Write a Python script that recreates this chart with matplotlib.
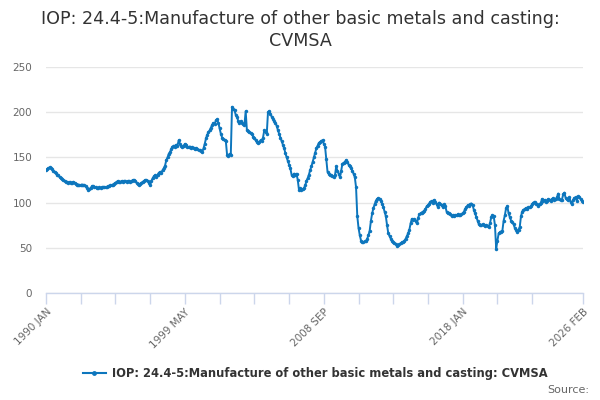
import matplotlib
matplotlib.use("Agg")
import matplotlib.pyplot as plt
from matplotlib.lines import Line2D
import numpy as np

title = "IOP: 24.4-5:Manufacture of other basic metals and casting:\nCVMSA"
series_name = "IOP: 24.4-5:Manufacture of other basic metals and casting: CVMSA"

start_year = 1990
months = ["JAN", "FEB", "MAR", "APR", "MAY", "JUN", "JUL", "AUG", "SEP", "OCT", "NOV", "DEC"]

values = [
    # 1990
    136, 137, 138, 139, 138, 137, 135, 134, 133, 131, 130, 128,
    # 1991
    127, 126, 125, 124, 123, 123, 122, 123, 122, 122, 123, 122,
    # 1992
    121, 120, 120, 119, 119, 120, 119, 119, 118, 116, 114, 115,
    # 1993
    116, 118, 118, 117, 117, 116, 116, 117, 116, 117, 117, 117,
    # 1994
    117, 117, 118, 118, 119, 119, 120, 121, 122, 123, 124, 123,
    # 1995
    123, 124, 123, 124, 124, 123, 124, 124, 123, 124, 125, 125,
    # 1996
    124, 122, 121, 120, 121, 122, 123, 124, 125, 125, 124, 122,
    # 1997
    120, 124, 127, 129, 130, 128, 131, 133, 134, 133, 136, 138,
    # 1998
    141, 147, 150, 154, 156, 159, 162, 163, 162, 164, 163, 169,
    # 1999
    165, 163, 161, 163, 165, 164, 162, 161, 162, 160, 161, 160,
    # 2000
    159, 160, 159, 158, 158, 157, 156, 160, 165, 171, 175, 178,
    # 2001
    180, 183, 186, 188, 187, 191, 192, 188, 182, 176, 172, 170,
    # 2002
    169, 168, 153, 152, 154, 153, 206, 203, 202, 197, 195, 190,
    # 2003
    188, 190, 188, 187, 186, 201, 180, 179, 178, 177, 176, 173,
    # 2004
    171, 169, 167, 166, 167, 169, 168, 172, 180, 178, 176, 200,
    # 2005
    201, 198, 195, 193, 190, 188, 185, 180, 176, 172, 168, 164,
    # 2006
    160, 155, 150, 146, 142, 138, 131, 129, 132, 130, 132, 125,
    # 2007
    114, 116, 114, 115, 116, 119, 124, 127, 131, 136, 140, 145,
    # 2008
    150, 155, 160, 163, 166, 167, 168, 169, 165, 162, 148, 134,
    # 2009
    132, 131, 130, 129, 128, 130, 140, 135, 132, 128, 135, 143,
    # 2010
    144, 145, 147, 145, 142, 140, 138, 135, 132, 128, 117, 85,
    # 2011
    72, 64, 58, 56, 56, 57, 57, 60, 64, 69, 80, 88,
    # 2012
    94, 98, 102, 104, 105, 104, 102, 99, 95, 90, 85, 75,
    # 2013
    66, 63, 60, 58, 56, 55, 54, 52, 53, 54, 55, 56,
    # 2014
    56, 58, 60, 63, 66, 70, 77, 82, 81, 82, 80, 77,
    # 2015
    83, 87, 88, 89, 90, 91, 93, 96, 97, 99, 101, 102,
    # 2016
    100, 103, 101, 98, 95, 100, 98, 97, 95, 98, 96, 90,
    # 2017
    89, 88, 87, 85, 86, 85, 86, 86, 87, 86, 86, 87,
    # 2018
    88, 90, 93, 95, 97, 96, 98, 99, 97, 92, 88, 84,
    # 2019
    80, 76, 75, 75, 76, 75, 74, 75, 74, 73, 77, 84,
    # 2020
    86, 85, 75, 49, 58, 66, 67, 68, 69, 80, 86, 94,
    # 2021
    96, 88, 84, 80, 78, 76, 72, 70, 68, 70, 73, 85,
    # 2022
    90, 92, 93, 94, 93, 95, 95, 96, 98, 100, 101, 99,
    # 2023
    98, 96, 98, 100, 104, 102, 103, 101, 102, 104, 103, 102,
    # 2024
    104, 105, 103, 104, 106, 110, 104, 103, 103, 109, 111, 105,
    # 2025
    104, 103, 106, 101, 98, 103, 105, 106, 102, 107, 106, 104,
    # 2026
    102, 101,
]

y_ticks = [0, 50, 100, 150, 200, 250]

n = len(values)
idx = np.arange(n)
labels = [f"{start_year + i // 12} {months[i % 12]}" for i in range(n)]

color = "#0d76bd"

fig = plt.figure(figsize=(6, 4), dpi=100)
ax = fig.add_axes([46/600, 1 - 293/400, (583 - 46)/600, (293 - 67)/400])

ax.plot(idx, values, color=color, linewidth=1.4, marker="o", markersize=2.5,
        markeredgewidth=0, zorder=3)

ax.set_xlim(0, n - 1)
ax.set_ylim(0, 250)
ax.set_yticks(y_ticks)
ax.set_yticklabels([str(v) for v in y_ticks], color="#666666", fontsize=7.5)
ax.grid(axis="y", color="#e6e6e6", linewidth=1)
ax.set_axisbelow(True)

major = list(range(0, n - 1 - 30, 28)) + [n - 1]
ax.set_xticks(major)
ax.set_xticklabels([labels[m] if (m % 112 == 0 or m == n - 1) else "" for m in major],
                   rotation=45, ha="right", rotation_mode="anchor",
                   color="#666666", fontsize=7.5)
ax.tick_params(axis="x", length=8, width=1, color="#ccd6eb", pad=2)
ax.tick_params(axis="y", length=0, pad=10)

for s in ["top", "right", "left"]:
    ax.spines[s].set_visible(False)
ax.spines["bottom"].set_color("#ccd6eb")
ax.spines["bottom"].set_linewidth(1)

fig.text(0.5, 0.975, title, ha="center", va="top", fontsize=12.6, color="#333333",
         linespacing=1.25)

handle = Line2D([0], [0], color=color, linewidth=1.5, marker="o", markersize=3.5,
                markeredgewidth=0)
fig.legend([handle], [series_name], loc="center", bbox_to_anchor=(0.525, 0.067),
           frameon=False, prop={"weight": "bold", "size": 8.3},
           handlelength=2.0, handletextpad=0.5, labelcolor="#333333")

fig.text(0.982, 0.025, "Source:", ha="right", va="center", fontsize=8, color="#666666")

fig.savefig("out.png", dpi=100)
